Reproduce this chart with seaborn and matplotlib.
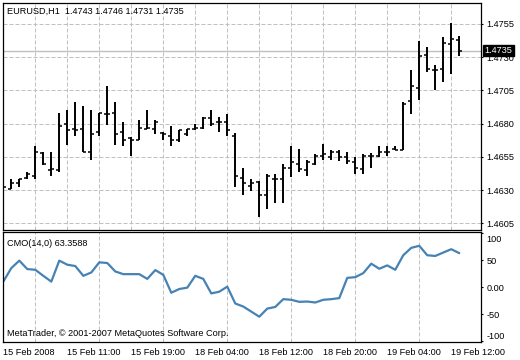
import numpy as np
import pandas as pd
import matplotlib
matplotlib.use("Agg")
import matplotlib.pyplot as plt
import matplotlib.transforms as mtransforms
import seaborn as sns

# OHLC of the EURUSD H1 bars
opens = [1.4631, 1.4631, 1.4635, 1.4639, 1.4641, 1.4658, 1.4645, 1.4645, 1.4680, 1.4676,
         1.4676, 1.4659, 1.4674, 1.4687, 1.4688, 1.4674, 1.4669, 1.4668, 1.4676, 1.4676,
         1.4673, 1.4671, 1.4668, 1.4672, 1.4676, 1.4677, 1.4684, 1.4681, 1.4681, 1.4671,
         1.4639, 1.4633, 1.4636, 1.4626, 1.4638, 1.4638, 1.4647, 1.4650, 1.4645, 1.4650,
         1.4656, 1.4655, 1.4659, 1.4655, 1.4651, 1.4646, 1.4656, 1.4656, 1.4659, 1.4661,
         1.4660, 1.4697, 1.4707, 1.4732, 1.4720, 1.4721, 1.4740, 1.4743]
highs = [1.4635, 1.4638, 1.4638, 1.4644, 1.4663, 1.4659, 1.4659, 1.4688, 1.4690, 1.4696,
         1.4693, 1.4690, 1.4688, 1.4708, 1.4696, 1.4681, 1.4670, 1.4683, 1.4690, 1.4683,
         1.4674, 1.4678, 1.4675, 1.4676, 1.4680, 1.4685, 1.4690, 1.4685, 1.4687, 1.4673,
         1.4647, 1.4638, 1.4637, 1.4642, 1.4642, 1.4650, 1.4663, 1.4661, 1.4653, 1.4657,
         1.4665, 1.4660, 1.4660, 1.4659, 1.4655, 1.4657, 1.4658, 1.4663, 1.4663, 1.4663,
         1.4696, 1.4720, 1.4742, 1.4738, 1.4724, 1.4745, 1.4756, 1.4746]
lows = [1.4630, 1.4631, 1.4632, 1.4638, 1.4638, 1.4649, 1.4641, 1.4644, 1.4664, 1.4671,
        1.4659, 1.4653, 1.4671, 1.4679, 1.4664, 1.4663, 1.4656, 1.4668, 1.4676, 1.4672,
        1.4668, 1.4663, 1.4666, 1.4671, 1.4675, 1.4676, 1.4678, 1.4674, 1.4671, 1.4632,
        1.4626, 1.4629, 1.4610, 1.4616, 1.4620, 1.4620, 1.4640, 1.4644, 1.4641, 1.4649,
        1.4653, 1.4653, 1.4652, 1.4650, 1.4642, 1.4642, 1.4647, 1.4655, 1.4656, 1.4660,
        1.4660, 1.4687, 1.4698, 1.4719, 1.4705, 1.4711, 1.4717, 1.4731]
closes = [1.4632, 1.4635, 1.4638, 1.4642, 1.4659, 1.4650, 1.4646, 1.4678, 1.4675, 1.4675,
          1.4659, 1.4672, 1.4688, 1.4687, 1.4672, 1.4668, 1.4668, 1.4677, 1.4677, 1.4681,
          1.4672, 1.4668, 1.4675, 1.4676, 1.4677, 1.4684, 1.4680, 1.4681, 1.4675, 1.4641,
          1.4635, 1.4635, 1.4626, 1.4641, 1.4638, 1.4647, 1.4651, 1.4646, 1.4651, 1.4656,
          1.4657, 1.4659, 1.4655, 1.4652, 1.4647, 1.4656, 1.4656, 1.4659, 1.4659, 1.4660,
          1.4695, 1.4708, 1.4731, 1.4721, 1.4720, 1.4741, 1.4744, 1.4735]

# CMO(14) indicator values
cmo = [10.6, 35.6, 49.4, 33.8, 32.5, 21.3, 10.6, 49.4, 41.9, 39.4,
       21.3, 27.5, 46.3, 45.0, 29.4, 24.4, 24.4, 24.4, 15.6, 31.9,
       23.1, -10.0, -3.1, -0.6, 21.3, 15.6, -11.3, -8.1, 1.3, -30.0,
       -35.6, -45.0, -54.4, -39.4, -36.3, -21.9, -23.1, -26.9, -26.3, -28.1,
       -23.1, -21.9, -20.0, 17.5, 18.8, 26.3, 43.8, 34.4, 40.6, 32.5,
       59.4, 73.1, 76.9, 59.4, 58.1, 64.4, 70.6, 63.36]

time_labels = ["15 Feb 2008", "15 Feb 11:00", "15 Feb 19:00", "18 Feb 04:00",
               "18 Feb 12:00", "18 Feb 20:00", "19 Feb 04:00", "19 Feb 12:00"]
price_ticks = [1.4605, 1.4630, 1.4655, 1.4680, 1.4705, 1.4730, 1.4755]
cmo_ticks = [100, 50, 0, -50, -100]
cmo_tick_labels = ["100", "50", "0.00", "-50", "-100"]
cmo_grid = [50, 0, -50]
last_price = 1.4735

sns.set_style("white")
plt.rcParams["font.family"] = ["Liberation Sans", "DejaVu Sans"]
fs = 6.6

fig = plt.figure(figsize=(5.2, 3.6), dpi=100)
ax1 = fig.add_axes([2.7 / 520, 1 - 230 / 360, 478 / 520, 227.3 / 360])
ax2 = fig.add_axes([2.7 / 520, 1 - 341.7 / 360, 478 / 520, 109.4 / 360])

bars = np.arange(len(opens))
grid_kw = dict(color="#c0c0c0", linewidth=0.72, linestyle=(0, (4, 2)))

# price panel: OHLC bars
ax1.vlines(bars, lows, highs, color="black", linewidth=1.4)
ax1.hlines(opens, bars - 0.38, bars, color="black", linewidth=1.1)
ax1.hlines(closes, bars, bars + 0.38, color="black", linewidth=1.1)
ax1.axhline(last_price, color="#c0c0c0", linewidth=1.0, zorder=0)
ax1.set_xlim(-0.075, 59.68)
ax1.set_ylim(1.4600, 1.4771)

# CMO panel
cmo_df = pd.DataFrame({"bar": bars, "cmo": cmo})
sns.lineplot(data=cmo_df, x="bar", y="cmo", ax=ax2, color="#4682b4", linewidth=1.6)
ax2.set_xlim(-0.075, 59.68)
ax2.set_ylim(-100.7, 101.9)
ax2.set_xlabel("")
ax2.set_ylabel("")

for ax in (ax1, ax2):
    ax.set_xticks(range(4, 57, 4), minor=True)
    ax.grid(axis="x", which="minor", **grid_kw)
    ax.set_axisbelow(True)
    for s in ax.spines.values():
        s.set_color("black")
        s.set_linewidth(0.9)
    ax.yaxis.tick_right()
    ax.tick_params(axis="y", which="major", direction="out", length=1.6, width=0.8,
                   pad=2.6, labelsize=fs, colors="black")
    ax.tick_params(which="minor", length=0)

ax1.set_yticks(price_ticks)
ax1.set_yticklabels([f"{p:.4f}" for p in price_ticks])
ax1.grid(axis="y", which="major", **grid_kw)
ax1.set_xticks([])

ax2.set_yticks(cmo_ticks)
ax2.set_yticklabels(cmo_tick_labels)
ax2.set_yticks(cmo_grid, minor=True)
ax2.grid(axis="y", which="minor", **grid_kw)
ax2.set_xticks(range(0, 57, 8))
ax2.set_xticklabels(time_labels, ha="left")
ax2.tick_params(axis="x", direction="out", length=2.5, width=0.8, pad=2.0,
                labelsize=fs, colors="black")

# MetaTrader nudges the extreme scale labels inwards
labs = ax2.get_yticklabels()
labs[0].set_transform(labs[0].get_transform() +
                      mtransforms.ScaledTranslation(0, -5.5 / 100, fig.dpi_scale_trans))
labs[-1].set_transform(labs[-1].get_transform() +
                       mtransforms.ScaledTranslation(0, 6 / 100, fig.dpi_scale_trans))

# last price marker on the scale
ax1.text(1.0, last_price, f"{last_price:.4f}", color="white", fontsize=fs, ha="left", va="center",
         transform=mtransforms.blended_transform_factory(ax1.transAxes, ax1.transData)
         + mtransforms.ScaledTranslation(4.0 / 100, 0, fig.dpi_scale_trans),
         bbox=dict(facecolor="black", edgecolor="black", pad=1.0), clip_on=False)

fig.text(7 / 520, 1 - 11 / 360, "EURUSD,H1  1.4743 1.4746 1.4731 1.4735", fontsize=fs,
         va="center", ha="left", color="black")
fig.text(7 / 520, 1 - 243 / 360, "CMO(14,0) 63.3588", fontsize=fs, va="center", ha="left", color="black")
fig.text(7 / 520, 1 - 333 / 360, "MetaTrader, \u00a9 2001-2007 MetaQuotes Software Corp.", fontsize=fs,
         va="center", ha="left", color="black")

fig.savefig("out.png", dpi=100, facecolor="white")
